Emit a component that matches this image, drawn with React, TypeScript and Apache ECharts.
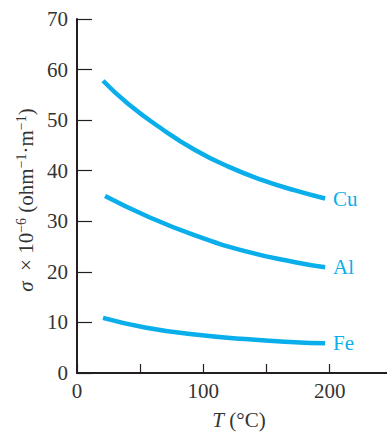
import React, { useEffect, useRef } from "react";
import * as echarts from "echarts";

const seriesNames = ["Cu", "Al", "Fe"];
const cuData: [number, number][] = [
  [20.6, 57.8], [40.6, 53.2], [67, 48.3], [93.4, 44.1], [119.8, 40.8], [146.2, 38.2], [172.6, 36.1], [196.4, 34.5],
];
const alData: [number, number][] = [
  [22.2, 35.0], [53.8, 31.2], [93.4, 27.2], [133, 24.1], [172.6, 21.9], [196.4, 20.9],
];
const feData: [number, number][] = [
  [20.6, 10.9], [53.8, 9.0], [93.4, 7.6], [133, 6.7], [172.6, 6.1], [196.4, 5.9],
];
const xTickValues = [0, 50, 100, 150, 200];
const xLabelValues = [0, 100, 200];
const yAxisTitleParts = ["σ", "  × 10", "−6", " (ohm", "−1", "·m", "−1", ")"];
const xAxisTitle = ["T", " (°C)"];

const LINE = "#0aaeea";
const AXIS = "#231f20";
const TEXT = "#333333";
const FONT = "'Liberation Serif', 'DejaVu Serif', serif";

export default function App() {
  const ref = useRef<HTMLDivElement>(null);
  useEffect(() => {
    if (!ref.current) return;
    const chart = echarts.init(ref.current, null, { renderer: "svg" });
    const datasets = [cuData, alData, feData];
    const p = yAxisTitleParts;
    const yTitle =
      "{i|" + p[0] + "}{n|" + p[1] + "}{s|" + p[2] + "}{n|" + p[3] + "}{s|" + p[4] + "}{n|" + p[5] + "}{s|" + p[6] + "}{n|" + p[7] + "}";
    chart.setOption({
      animation: false,
      backgroundColor: "#ffffff",
      grid: { left: 77, right: 0, top: 19, bottom: 59, containLabel: false },
      xAxis: {
        type: "value",
        min: 0,
        max: 245.4,
        interval: 50,
        splitLine: { show: false },
        axisLine: { show: true, lineStyle: { color: AXIS, width: 2 } },
        axisTick: { show: true, inside: true, length: 9, customValues: xTickValues, lineStyle: { color: AXIS, width: 1.2 } },
        axisLabel: {
          customValues: xLabelValues,
          color: TEXT,
          fontFamily: FONT,
          fontSize: 21,
          margin: 7,
        },
      },
      yAxis: {
        type: "value",
        min: 0,
        max: 70,
        interval: 10,
        splitLine: { show: false },
        axisLine: { show: true, lineStyle: { color: AXIS, width: 2 } },
        axisTick: { show: true, inside: true, length: 15, lineStyle: { color: AXIS, width: 1.2 } },
        axisLabel: { color: TEXT, fontFamily: FONT, fontSize: 21, margin: 9 },
      },
      series: seriesNames.map((name, i) => ({
        name,
        type: "line",
        data: datasets[i],
        smooth: true,
        showSymbol: false,
        lineStyle: { color: LINE, width: 4.5, cap: "butt" },
        endLabel: {
          show: true,
          formatter: "{a}",
          color: LINE,
          fontFamily: FONT,
          fontSize: 21,
          distance: 8,
        },
      })),
      graphic: [
        {
          type: "text",
          x: 25,
          y: 200,
          rotation: Math.PI / 2,
          style: {
            text: yTitle,
            rich: {
              i: { fontStyle: "italic", fontFamily: FONT, fontSize: 21, fill: TEXT, lineHeight: 22, verticalAlign: "bottom" },
              n: { fontFamily: FONT, fontSize: 21, fill: TEXT, lineHeight: 22, verticalAlign: "bottom" },
              s: { fontFamily: FONT, fontSize: 14, fill: TEXT, lineHeight: 22, verticalAlign: "top" },
            },
            fontFamily: FONT,
            fontSize: 21,
            fill: TEXT,
            align: "center",
            verticalAlign: "middle",
          },
        },
        {
          type: "text",
          x: 239,
          y: 420,
          style: {
            text: "{i|" + xAxisTitle[0] + "}" + xAxisTitle[1],
            rich: { i: { fontStyle: "italic", fontFamily: FONT, fontSize: 21, fill: TEXT } },
            fontFamily: FONT,
            fontSize: 21,
            fill: TEXT,
            align: "center",
            verticalAlign: "middle",
          },
        },
      ],
    });
    return () => chart.dispose();
  }, []);
  return <div ref={ref} style={{ width: 387, height: 432, position: "absolute", left: 0, top: 0 }} />;
}
